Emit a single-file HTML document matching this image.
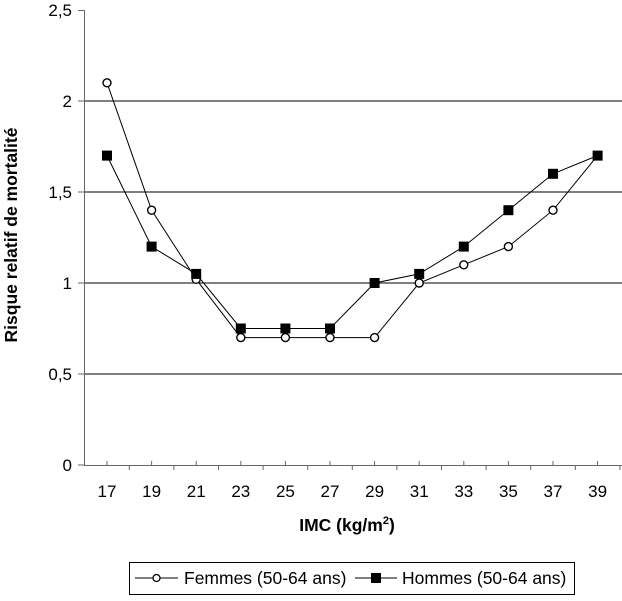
<!DOCTYPE html>
<html><head><meta charset="utf-8"><style>
body{margin:0;background:#fff}
svg text{font-family:"Liberation Sans",Arial,sans-serif;fill:#000}
</style></head><body>
<svg width="622" height="596" viewBox="0 0 622 596" xmlns="http://www.w3.org/2000/svg">
<g stroke="#000" stroke-width="1">
<line x1="84" y1="374" x2="622" y2="374"/>
<line x1="84" y1="283" x2="622" y2="283"/>
<line x1="84" y1="192" x2="622" y2="192"/>
<line x1="84" y1="101" x2="622" y2="101"/>
</g>
<g stroke="#666" stroke-width="1">
<line x1="84.5" y1="10" x2="84.5" y2="465"/>
<line x1="84" y1="465.5" x2="622" y2="465.5"/>
<line x1="78" y1="10.5" x2="84" y2="10.5"/>
<line x1="78" y1="101" x2="84" y2="101"/>
<line x1="78" y1="192" x2="84" y2="192"/>
<line x1="78" y1="283" x2="84" y2="283"/>
<line x1="78" y1="374" x2="84" y2="374"/>
<line x1="78" y1="465" x2="84" y2="465"/>
</g>
<g id="ticks" stroke="#666"></g>
<g font-size="17" text-anchor="end">
<text x="72" y="16">2,5</text><text x="72" y="107">2</text><text x="72" y="198">1,5</text>
<text x="72" y="289">1</text><text x="72" y="380">0,5</text><text x="72" y="471">0</text>
</g>
<g font-size="17" text-anchor="middle" id="xl"></g>
<text x="347" y="531" font-size="17.5" font-weight="bold" text-anchor="middle">IMC (kg/m<tspan font-size="11" dy="-7">2</tspan><tspan dy="7">)</tspan></text>
<text transform="translate(17,235) rotate(-90)" font-size="17.5" font-weight="bold" text-anchor="middle">Risque relatif de mortalité</text>
<g id="series"></g>
<rect x="129.5" y="562.5" width="445" height="32" fill="#fff" stroke="#000"/>
<line x1="135" y1="578" x2="178" y2="578" stroke="#000"/>
<circle cx="156.5" cy="578" r="3.5" fill="#fff" stroke="#000" stroke-width="1.3"/>
<text x="184" y="584" font-size="17.5">Femmes (50-64 ans)</text>
<line x1="355" y1="578" x2="397" y2="578" stroke="#000"/>
<rect x="371" y="573" width="10" height="10" fill="#000"/>
<text x="402" y="584" font-size="17.5">Hommes (50-64 ans)</text>
</svg>
<script>
var ns="http://www.w3.org/2000/svg";
function el(t,a,p){var e=document.createElementNS(ns,t);for(var k in a)e.setAttribute(k,a[k]);p.appendChild(e);return e;}
var X=function(i){return 107+i*44.6},Y=function(v){return 465-v*182};
var tk=document.getElementById('ticks'),xl=document.getElementById('xl'),s=document.getElementById('series');
for(var i=0;i<12;i++){var x=X(i);el('line',{x1:x,y1:461,x2:x,y2:465},tk);el('line',{x1:x+22.3,y1:465,x2:x+22.3,y2:470},tk);
var t=el('text',{x:x,y:497},xl);t.textContent=17+2*i;}
var f=[2.1,1.4,1.02,0.7,0.7,0.7,0.7,1.0,1.1,1.2,1.4,1.7],h=[1.7,1.2,1.05,0.75,0.75,0.75,1.0,1.05,1.2,1.4,1.6,1.7];
function pl(d){return d.map(function(v,i){return X(i)+','+Y(v)}).join(' ')}
el('polyline',{points:pl(f),fill:'none',stroke:'#000','stroke-width':1},s);
el('polyline',{points:pl(h),fill:'none',stroke:'#000','stroke-width':1},s);
f.forEach(function(v,i){el('circle',{cx:X(i),cy:Y(v),r:4,fill:'#fff',stroke:'#000','stroke-width':1.4},s)});
h.forEach(function(v,i){el('rect',{x:X(i)-5,y:Y(v)-5,width:10,height:10,fill:'#000'},s)});
</script>
</body></html>
